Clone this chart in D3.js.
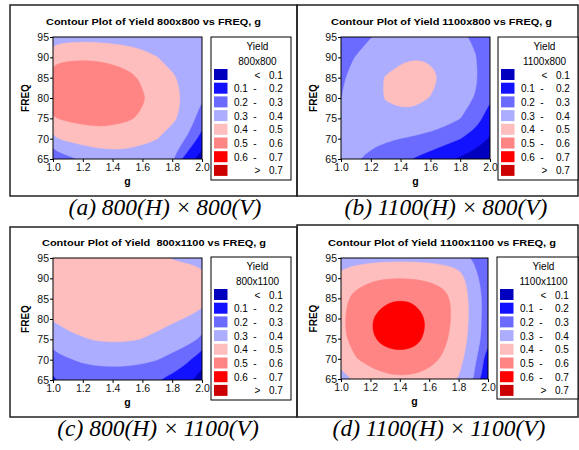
<!DOCTYPE html>
<html>
<head>
<meta charset="utf-8">
<script src="https://cdn.jsdelivr.net/npm/d3@7"></script>
<style>
body { margin: 0; background: #fff; }
</style>
</head>
<body>
<svg id="chart" width="579" height="450"></svg>
<script>
// grid of the response surface
const gValues = [1.0, 1.1, 1.2, 1.3, 1.4, 1.5, 1.6, 1.7, 1.8, 1.9, 2.0];
const freqValues = [65, 70, 75, 80, 85, 90, 95];
const gTicks = [1.0, 1.2, 1.4, 1.6, 1.8, 2.0];
const freqTicks = [65, 70, 75, 80, 85, 90, 95];
const levels = [0.1, 0.2, 0.3, 0.4, 0.5, 0.6, 0.7];
const bandColors = ["#0000BE", "#1212FF", "#6B6BFF", "#ADADFF", "#FFBEBE", "#FF8484", "#FF0000", "#CC0000"];
const legendLabels = [["", "<", "0.1"], ["0.1", "-", "0.2"], ["0.2", "-", "0.3"], ["0.3", "-", "0.4"],
                      ["0.4", "-", "0.5"], ["0.5", "-", "0.6"], ["0.6", "-", "0.7"], ["", ">", "0.7"]];

// rows : FREQ 65 -> 95, columns : g 1.0 -> 2.0
const yield800x800 = [
  [0.23, 0.275, 0.31, 0.335, 0.35, 0.352, 0.345, 0.33, 0.302, 0.15, 0.05],
  [0.385, 0.42, 0.44, 0.455, 0.455, 0.445, 0.425, 0.401, 0.35, 0.29, 0.16],
  [0.494, 0.515, 0.525, 0.53, 0.522, 0.51, 0.49, 0.46, 0.42, 0.36, 0.25],
  [0.547, 0.558, 0.564, 0.562, 0.553, 0.535, 0.507, 0.472, 0.43, 0.38, 0.305],
  [0.541, 0.552, 0.556, 0.552, 0.541, 0.522, 0.49, 0.455, 0.412, 0.37, 0.33],
  [0.477, 0.487, 0.49, 0.487, 0.478, 0.462, 0.437, 0.401, 0.37, 0.345, 0.32],
  [0.354, 0.365, 0.37, 0.368, 0.36, 0.35, 0.34, 0.33, 0.32, 0.312, 0.305]
];
const yield1100x800 = [
  [0.32, 0.305, 0.283, 0.255, 0.225, 0.19, 0.155, 0.12, 0.085, 0.05, 0.01],
  [0.325, 0.325, 0.318, 0.31, 0.299, 0.285, 0.265, 0.235, 0.201, 0.155, 0.09],
  [0.31, 0.335, 0.355, 0.37, 0.378, 0.375, 0.365, 0.34, 0.301, 0.245, 0.15],
  [0.298, 0.335, 0.37, 0.405, 0.42, 0.418, 0.397, 0.36, 0.33, 0.296, 0.21],
  [0.29, 0.325, 0.37, 0.405, 0.43, 0.445, 0.428, 0.38, 0.35, 0.308, 0.26],
  [0.28, 0.302, 0.33, 0.36, 0.385, 0.395, 0.388, 0.37, 0.345, 0.303, 0.26],
  [0.25, 0.275, 0.298, 0.315, 0.325, 0.33, 0.33, 0.325, 0.312, 0.29, 0.26]
];
const yield800x1100 = [
  [0.189, 0.225, 0.23, 0.232, 0.23, 0.226, 0.218, 0.202, 0.172, 0.128, 0.05],
  [0.249, 0.29, 0.315, 0.33, 0.336, 0.333, 0.322, 0.301, 0.265, 0.215, 0.14],
  [0.365, 0.385, 0.394, 0.406, 0.41, 0.407, 0.398, 0.385, 0.365, 0.335, 0.28],
  [0.403, 0.42, 0.435, 0.44, 0.442, 0.44, 0.432, 0.422, 0.41, 0.395, 0.38],
  [0.45, 0.46, 0.468, 0.472, 0.472, 0.468, 0.462, 0.453, 0.443, 0.432, 0.42],
  [0.468, 0.479, 0.485, 0.487, 0.485, 0.48, 0.472, 0.462, 0.45, 0.438, 0.425],
  [0.46, 0.47, 0.475, 0.475, 0.472, 0.465, 0.452, 0.425, 0.395, 0.385, 0.375]
];
const yield1100x1100 = [
  [0.36, 0.41, 0.45, 0.475, 0.485, 0.48, 0.46, 0.43, 0.395, 0.298, 0.12],
  [0.455, 0.495, 0.535, 0.56, 0.57, 0.562, 0.535, 0.485, 0.43, 0.34, 0.13],
  [0.48, 0.535, 0.59, 0.63, 0.645, 0.628, 0.58, 0.52, 0.45, 0.365, 0.24],
  [0.485, 0.54, 0.598, 0.64, 0.655, 0.64, 0.59, 0.54, 0.46, 0.37, 0.24],
  [0.475, 0.525, 0.56, 0.585, 0.594, 0.588, 0.565, 0.528, 0.46, 0.37, 0.25],
  [0.436, 0.465, 0.485, 0.496, 0.498, 0.495, 0.485, 0.47, 0.45, 0.335, 0.245],
  [0.35, 0.362, 0.37, 0.375, 0.377, 0.376, 0.372, 0.362, 0.34, 0.29, 0.24]
];

const panelNames = ["800x800", "1100x800", "800x1100", "1100x1100"];
const panelTitles = ["Contour Plot of Yield 800x800 vs FREQ, g",
                     "Contour Plot of Yield 1100x800 vs FREQ, g",
                     "Contour Plot of Yield  800x1100 vs FREQ, g",
                     "Contour Plot of Yield 1100x1100 vs FREQ, g"];
const captions = ["(a) 800(H) \u00d7\u2009800(V)", "(b) 1100(H) \u00d7\u2009800(V)",
                  "(c) 800(H) \u00d7\u20091100(V)", "(d) 1100(H) \u00d7\u20091100(V)"];
const grids = [yield800x800, yield1100x800, yield800x1100, yield1100x1100];

// mise en page des 4 panneaux
const layout = [
  {box: [10, 5, 297, 196],  plot: [53, 37, 202, 159],  leg: [211, 37, 291, 180],  tx: 153.5, tw: 215, cx: 165, cy: 215},
  {box: [297, 5, 578, 196], plot: [341, 37, 490, 159], leg: [498, 37, 578, 180],  tx: 441.5, tw: 221, cx: 446, cy: 215},
  {box: [10, 227, 297, 417], plot: [53, 258, 202, 380], leg: [211, 257, 291, 400], tx: 154,   tw: 224, cx: 158, cy: 436},
  {box: [297, 225, 578, 417], plot: [341, 258, 488, 379], leg: [497, 257, 578, 399], tx: 442, tw: 228, cx: 439, cy: 436}
];

const sans = "Liberation Sans, Arial, sans-serif";
const serif = "Liberation Serif, Times New Roman, serif";

const svg = d3.select("#chart");

const ringLine = d3.line().curve(d3.curveBasisClosed);

function drawPanel(i) {
  const L = layout[i];
  const grid = grids[i];
  const [x0, y0, x1, y1] = L.plot;

  const x = d3.scaleLinear().domain([1, 2]).range([x0, x1]);
  const y = d3.scaleLinear().domain([65, 95]).range([y1, y0]);

  // cadre du panneau
  svg.append("rect")
    .attr("x", L.box[0]).attr("y", L.box[1])
    .attr("width", L.box[2] - L.box[0]).attr("height", L.box[3] - L.box[1])
    .attr("fill", "none").attr("stroke", "#222").attr("stroke-width", 1.5);

  const g = svg.append("g").style("font-family", sans);

  g.append("clipPath").attr("id", "clip" + i)
    .append("rect").attr("x", x0).attr("y", y0).attr("width", x1 - x0).attr("height", y1 - y0);

  const area = g.append("g").attr("clip-path", "url(#clip" + i + ")");

  area.append("rect")
    .attr("x", x0).attr("y", y0).attr("width", x1 - x0).attr("height", y1 - y0)
    .attr("fill", bandColors[0]);

  const nx = gValues.length, ny = freqValues.length;
  const dg = gValues[1] - gValues[0], df = freqValues[1] - freqValues[0];
  const bands = d3.contours().size([nx, ny]).thresholds(levels)(grid.flat());

  // grid coords -> pixels (samples sit at cell centres)
  const toPx = p => [x(gValues[0] + (p[0] - 0.5) * dg), y(freqValues[0] + (p[1] - 0.5) * df)];

  bands.forEach(function(band, k) {
    if (band.coordinates.length == 0) return;
    let d = "";
    band.coordinates.forEach(function(poly) {
      poly.forEach(function(ring) {
        const pts = ring.slice(0, ring.length - 1).map(toPx);
        if (pts.length > 2) d += ringLine(pts);
      });
    });
    area.append("path")
      .attr("d", d)
      .attr("fill-rule", "evenodd")
      .attr("fill", bandColors[k + 1])
      .attr("stroke", bandColors[k + 1])
      .attr("stroke-width", 0.6);
  });

  g.append("rect")
    .attr("x", x0).attr("y", y0).attr("width", x1 - x0).attr("height", y1 - y0)
    .attr("fill", "none").attr("stroke", "#000").attr("stroke-width", 1);

  // axes
  const ax = g.append("g")
    .attr("transform", "translate(0," + y1 + ")")
    .call(d3.axisBottom(x).tickValues(gTicks).tickSize(3).tickPadding(2).tickFormat(d3.format(".1f")));
  ax.select(".domain").remove();

  const ay = g.append("g")
    .attr("transform", "translate(" + x0 + ",0)")
    .call(d3.axisLeft(y).tickValues(freqTicks).tickSize(3).tickPadding(1).tickFormat(d3.format("d")));
  ay.select(".domain").remove();

  g.selectAll(".tick text")
    .style("font-family", sans)
    .attr("font-size", 10.5)
    .attr("fill", "#111");
  g.selectAll(".tick line").attr("stroke", "#000");

  g.append("text")
    .attr("x", (x0 + x1) / 2).attr("y", y1 + 26)
    .attr("text-anchor", "middle")
    .attr("font-weight", "bold").attr("font-size", 10.5)
    .text("g");

  g.append("text")
    .attr("transform", "translate(" + (x0 - 24) + "," + ((y0 + y1) / 2) + ") rotate(-90)")
    .attr("text-anchor", "middle")
    .attr("font-weight", "bold").attr("font-size", 10)
    .text("FREQ");

  // titre
  g.append("text")
    .attr("x", L.tx).attr("y", y0 - 12)
    .attr("text-anchor", "middle")
    .attr("font-weight", "bold").attr("font-size", 9.5)
    .attr("textLength", L.tw).attr("lengthAdjust", "spacingAndGlyphs")
    .style("white-space", "pre")
    .text(panelTitles[i]);

  // légende
  const [bx, by, bx2, by2] = L.leg;
  g.append("rect")
    .attr("x", bx).attr("y", by).attr("width", bx2 - bx).attr("height", by2 - by)
    .attr("fill", "#fff").attr("stroke", "#000").attr("stroke-width", 1);

  g.append("text").attr("x", bx + 46.5).attr("y", by + 13)
    .attr("text-anchor", "middle").attr("font-size", 10).text("Yield");
  g.append("text").attr("x", bx + 46.5).attr("y", by + 28)
    .attr("text-anchor", "middle").attr("font-size", 10).text(panelNames[i]);

  const rows = g.selectAll(".legrow").data(legendLabels).enter().append("g")
    .attr("transform", (d, k) => "translate(" + bx + "," + (by + 32 + k * 13.7) + ")");

  rows.append("rect")
    .attr("x", 3).attr("width", 13.5).attr("height", 11)
    .attr("fill", (d, k) => bandColors[k]);
  rows.append("text").attr("x", 23).attr("y", 9.5).attr("font-size", 10).text(d => d[0]);
  rows.append("text").attr("x", d => d[1] == "-" ? 44 : 46.5).attr("y", 9.5)
    .attr("text-anchor", "middle").attr("font-size", 10).text(d => d[1]);
  rows.append("text").attr("x", 58).attr("y", 9.5).attr("font-size", 10).text(d => d[2]);

  // légende sous la figure
  svg.append("text")
    .attr("x", L.cx).attr("y", L.cy)
    .attr("text-anchor", "middle")
    .style("font-family", serif)
    .attr("font-style", "italic").attr("font-size", 23.5)
    .text(captions[i]);
}

for (let i = 0; i < 4; i++) drawPanel(i);
</script>
</body>
</html>
